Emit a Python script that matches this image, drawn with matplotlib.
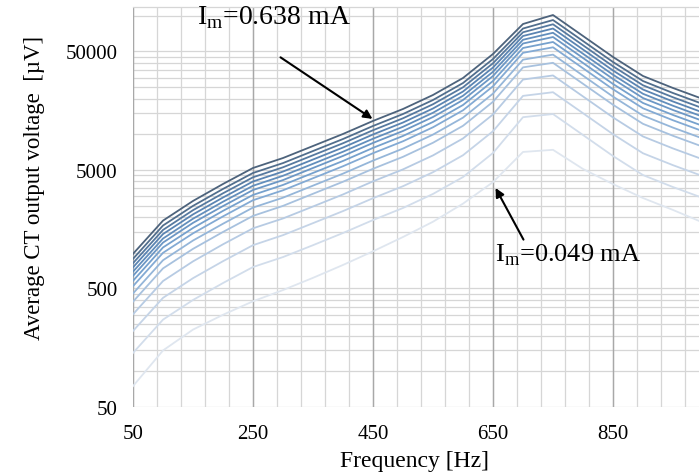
import numpy as np
import matplotlib
matplotlib.use("Agg")
import matplotlib.pyplot as plt
from matplotlib.colors import LinearSegmentedColormap

plt.rcParams['font.family'] = ['Liberation Serif', 'DejaVu Serif']
plt.rcParams['mathtext.fontset'] = 'custom'
plt.rcParams['mathtext.rm'] = 'Liberation Serif'

# measurement frequencies [Hz]
freqs = [50, 100, 150, 200, 250, 300, 350, 400, 450, 500,
         550, 600, 650, 700, 750, 800, 850, 900, 950, 1000]

# average CT output voltage [uV] for each magnetizing current, lowest first
im_049 = [75, 150, 225, 300, 390, 485, 615, 790, 1030, 1360,
          1830, 2600, 3950, 7100, 7400, 5100, 3800, 2900, 2300, 1800]
im_093 = [143, 273, 400, 556, 759, 921, 1160, 1470, 1890, 2390,
          3140, 4360, 6960, 13950, 14830, 9870, 6560, 4530, 3590, 2900]
im_142 = [219, 417, 611, 850, 1160, 1410, 1780, 2250, 2890, 3650,
          4790, 6660, 10620, 21110, 22660, 15080, 10020, 6920, 5490, 4430]
im_197 = [303, 578, 847, 1180, 1610, 1950, 2460, 3110, 4010, 5060,
          6640, 9230, 14720, 28990, 31390, 20890, 13890, 9590, 7600, 6140]
im_252 = [387, 739, 1080, 1500, 2050, 2490, 3150, 3980, 5120, 6460,
          8490, 11800, 18820, 36730, 40130, 26700, 17760, 12260, 9720, 7850]
im_295 = [454, 866, 1270, 1760, 2410, 2920, 3690, 4660, 6000, 7580,
          9950, 13830, 22060, 42650, 47040, 31300, 20810, 14380, 11390, 9200]
im_341 = [523, 1000, 1460, 2030, 2780, 3370, 4260, 5380, 6930, 8740,
          11470, 15950, 25440, 48740, 54250, 36100, 24000, 16580, 13140, 10610]
im_378 = [580, 1110, 1620, 2260, 3080, 3740, 4720, 5960, 7680, 9690,
          12720, 17680, 28200, 53530, 60150, 40020, 26610, 18380, 14560, 11760]
im_416 = [639, 1220, 1790, 2480, 3390, 4110, 5200, 6570, 8460, 10670,
          14000, 19480, 31060, 58400, 66240, 44080, 29310, 20240, 16040, 12950]
im_452 = [694, 1320, 1940, 2700, 3680, 4470, 5640, 7130, 9180, 11580,
          15210, 21150, 33730, 62810, 71930, 47860, 31830, 21980, 17420, 14060]
im_491 = [754, 1440, 2110, 2930, 4000, 4850, 6130, 7740, 9970, 12580,
          16520, 22970, 36640, 67570, 78130, 51980, 34570, 23880, 18920, 15270]
im_533 = [818, 1560, 2290, 3180, 4340, 5270, 6660, 8410, 10830, 13660,
          17940, 24940, 39780, 72650, 84840, 56450, 37530, 25930, 20540, 16580]
im_579 = [889, 1700, 2490, 3460, 4720, 5720, 7230, 9130, 11760, 14840,
          19480, 27090, 43210, 78140, 92150, 61310, 40770, 28160, 22310, 18010]
im_638 = [980, 1870, 2740, 3810, 5200, 6310, 7970, 10070, 12970, 16360,
          21480, 29870, 47640, 85300, 101600, 67600, 44950, 31050, 24600, 19860]

curves = [im_049, im_093, im_142, im_197, im_252, im_295, im_341,
          im_378, im_416, im_452, im_491, im_533, im_579, im_638]

y_ticks = [50, 500, 5000, 50000]
x_ticks = [50, 250, 450, 650, 850]

fig = plt.figure(figsize=(6.99, 4.77), dpi=100)
# the plot area runs past the right edge of the figure
ax = fig.add_axes([133 / 699, 69 / 477, 600 / 699, 400 / 477])

cmap = LinearSegmentedColormap.from_list(
    "blues", ["#dfe6ef", "#b4c9e2", "#7ba5d1", "#5b87b6", "#4d637c"])
colors = cmap(np.linspace(0, 1, len(curves)))

for vals, c in zip(curves, colors):
    ax.plot(freqs, vals, color=c, lw=1.3, zorder=3)

ax.set_yscale('log')
ax.set_xlim(50, 1050)
ax.set_ylim(50, 118700)

# grid: minor lines every 40 Hz, 1..9 steps inside each decade
for x in np.arange(50, 1051, 40):
    ax.axvline(x, color='#d6d6d6', lw=0.9, zorder=1)
for x in x_ticks + [1050]:
    ax.axvline(x, color='#a8a8a8', lw=1.0, zorder=1.5)
for base in y_ticks:
    for k in range(1, 10):
        ax.axhline(base * k, color='#d6d6d6', lw=0.9, zorder=1)

ax.set_xticks(x_ticks)
ax.set_xticklabels([str(t) for t in x_ticks])
ax.set_yticks(y_ticks)
ax.set_yticklabels([str(t) for t in y_ticks])
ax.yaxis.set_minor_locator(matplotlib.ticker.NullLocator())
ax.tick_params(axis='both', length=0, labelsize=15)
ax.tick_params(axis='y', pad=11)
ax.tick_params(axis='x', pad=12)
for name, s in ax.spines.items():
    s.set_visible(name == 'top')
ax.spines['top'].set_color('#d6d6d6')
ax.spines['top'].set_linewidth(0.9)

ax.set_xlabel('Frequency [Hz]', fontsize=17)
ax.xaxis.set_label_coords(0.47, -0.107)
ax.set_ylabel('Average CT output voltage  [\u00b5V]', fontsize=16.5)
ax.yaxis.set_label_coords(-0.147, 0.55)

ax.text(157, 98000, r'I$_\mathregular{m}$=0.638 mA', fontsize=20,
        va='center', ha='left', zorder=5)
ax.annotate('', xy=(453, 13100), xytext=(292, 46000),
            arrowprops=dict(arrowstyle='-|>', color='black', lw=1.5,
                            mutation_scale=13), zorder=5)

ax.text(653, 980, r'I$_\mathregular{m}$=0.049 mA', fontsize=19,
        va='center', ha='left', zorder=5)
ax.annotate('', xy=(652, 3700), xytext=(703, 1233),
            arrowprops=dict(arrowstyle='-|>', color='black', lw=1.5,
                            mutation_scale=13), zorder=5)

fig.savefig('out.png', dpi=100)
